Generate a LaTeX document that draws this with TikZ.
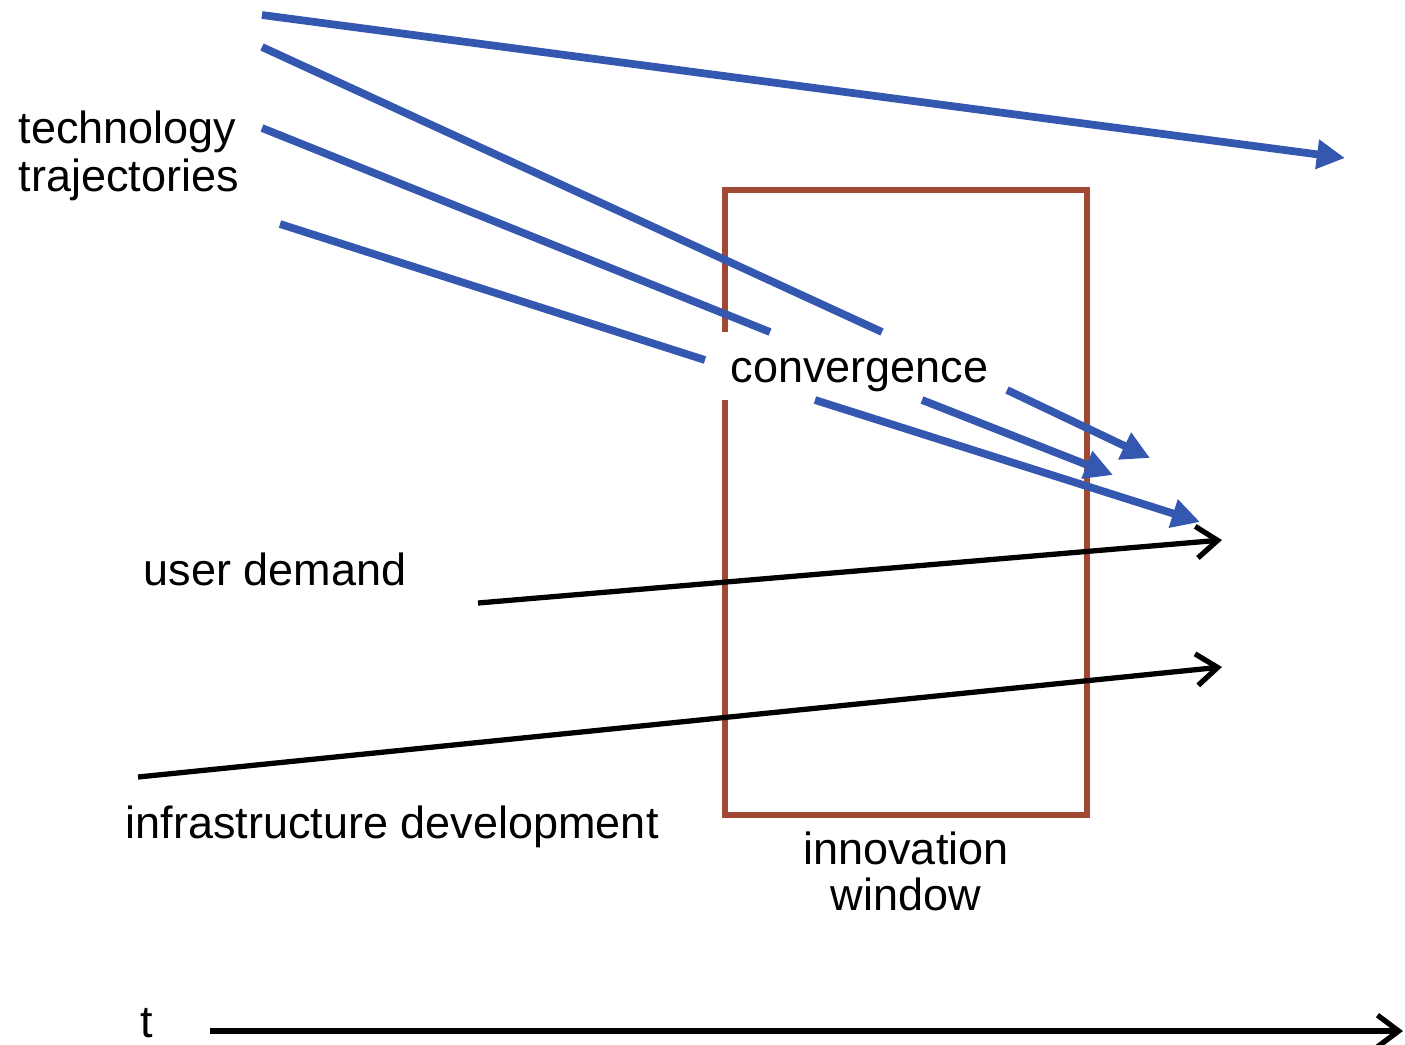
\documentclass[tikz,border=0pt]{standalone}
\usepackage{fontspec}
\setmainfont{Liberation Sans}
\usetikzlibrary{arrows.meta}
\definecolor{trajblue}{RGB}{52,88,176}
\definecolor{winred}{RGB}{162,72,50}
\begin{document}
\begin{tikzpicture}[x=0.01cm,y=-0.01cm,
  lbl/.style={inner sep=0pt,anchor=base west,font=\fontsize{12.8pt}{15pt}\selectfont},
  traj/.style={trajblue,line width=2.2pt},
  trajarrow/.style={traj,-{Triangle[length=8pt,width=8pt]}},
  driver/.style={black,line width=1.5pt,-{Straight Barb[length=6pt,width=9pt,line width=1.5pt]}},
  winbox/.style={winred,line width=1.9pt}]
\useasboundingbox (0,0) rectangle (1405,1044);
% labels
\node[lbl] (tech) at (18,143) {technology};
\node[lbl] (traj) at (18,191) {trajectories};
\node[lbl] (conv) at (730,382) {convergence};
\node[lbl] (user) at (143,585) {user demand};
\node[lbl] (infra) at (125,838) {infrastructure development};
\node[lbl,anchor=base] (innov) at (906,864) {innovation};
\node[lbl,anchor=base] (windw) at (906,910) {window};
\node[lbl] (tlbl) at (140,1037) {t};
% coordinates
\coordinate (a1) at (262,15);   \coordinate (b1) at (1345,158);
\coordinate (a2) at (262,47);   \coordinate (b2) at (882,332);
\coordinate (a3) at (262,128);  \coordinate (b3) at (770,332);
\coordinate (a4) at (280,224);  \coordinate (b4) at (705,360);
\coordinate (c1) at (1007,390); \coordinate (d1) at (1150,458);
\coordinate (c2) at (922,400);  \coordinate (d2) at (1113,475);
\coordinate (c3) at (815,400);  \coordinate (d3) at (1200,522);
\coordinate (u1) at (478,603);  \coordinate (u2) at (1222,540);
\coordinate (i1) at (138,777);  \coordinate (i2) at (1222,667);
\coordinate (t1) at (210,1031); \coordinate (t2) at (1403,1031);
\coordinate (w1) at (725,400);  \coordinate (w2) at (725,815);
\coordinate (w3) at (1087,815); \coordinate (w4) at (1087,190);
\coordinate (w5) at (725,190);  \coordinate (w6) at (725,332);
% innovation window
\draw[winbox] (w1) -- (w2) -- (w3) -- (w4) -- (w5) -- (w6);
% technology trajectories
\draw[trajarrow] (a1) -- (b1);
\draw[traj] (a2) -- (b2);
\draw[traj] (a3) -- (b3);
\draw[traj] (a4) -- (b4);
\draw[trajarrow] (c1) -- (d1);
\draw[trajarrow] (c2) -- (d2);
\draw[trajarrow] (c3) -- (d3);
% drivers
\draw[driver] (u1) -- (u2);
\draw[driver] (i1) -- (i2);
\draw[driver] (t1) -- (t2);
\end{tikzpicture}
\end{document}
